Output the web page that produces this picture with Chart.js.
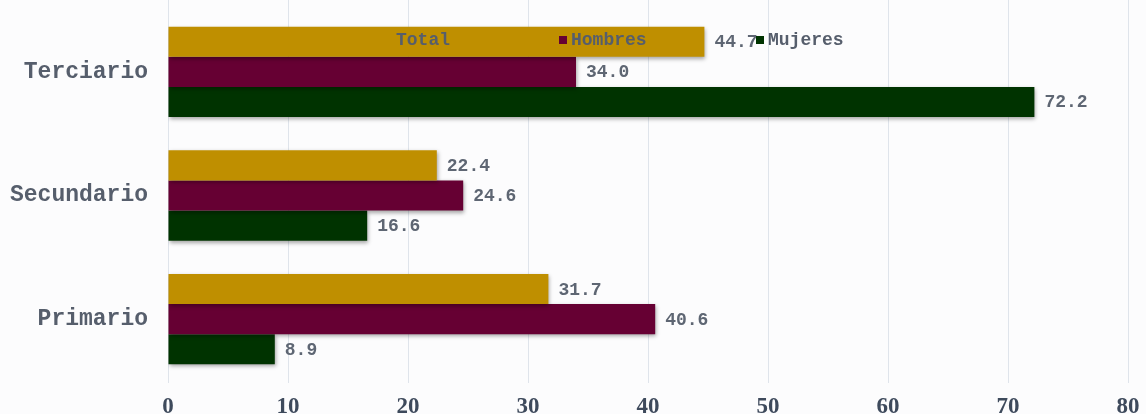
<!DOCTYPE html>
<html lang="es">
<head>
  <meta charset="UTF-8" />
  <title>Niveles por sector</title>
  <script src="https://cdn.jsdelivr.net/npm/chart.js"></script>
  <style>
    html, body { margin: 0; padding: 0; background: #fcfcfd; }
    #wrap { width: 1146px; height: 414px; }
  </style>
</head>
<body>
  <div id="wrap"><canvas id="chart" width="1146" height="414"></canvas></div>

  <script>
    // Sectors and values per group
    const categories = ["Terciario", "Secundario", "Primario"];
    const total   = [44.7, 22.4, 31.7];
    const hombres = [34.0, 24.6, 40.6];
    const mujeres = [72.2, 16.6, 8.9];
    const xTicks  = [0, 10, 20, 30, 40, 50, 60, 70, 80];

    const textGray = "#565e6c";
    const gridGray = "#dfe4eb";
    const monoFont = "'Liberation Mono', 'Courier New', monospace";

    // soft drop shadow under the bars
    const barShadow = {
      id: "barShadow",
      beforeDatasetsDraw(chart) {
        const ctx = chart.ctx;
        ctx.save();
        ctx.shadowColor = "rgba(0,0,0,0.35)";
        ctx.shadowBlur = 4;
        ctx.shadowOffsetX = 1;
        ctx.shadowOffsetY = 2;
      },
      afterDatasetsDraw(chart) {
        chart.ctx.restore();
      }
    };

    // grid lines continue up to the top edge
    const gridTop = {
      id: "gridTop",
      beforeDatasetsDraw(chart) {
        const ctx = chart.ctx, x = chart.scales.x, top = chart.chartArea.top;
        ctx.save();
        ctx.strokeStyle = gridGray;
        ctx.lineWidth = 1;
        xTicks.forEach(v => {
          const px = Math.round(x.getPixelForValue(v)) + 0.5;
          ctx.beginPath();
          ctx.moveTo(px, 0);
          ctx.lineTo(px, top);
          ctx.stroke();
        });
        ctx.restore();
      }
    };

    // numbers at the end of each bar
    const valueLabels = {
      id: "valueLabels",
      afterDatasetsDraw(chart) {
        const ctx = chart.ctx;
        ctx.save();
        ctx.font = "bold 18px " + monoFont;
        ctx.fillStyle = "#5e6673";
        ctx.textBaseline = "middle";
        ctx.textAlign = "left";
        chart.data.datasets.forEach((ds, i) => {
          chart.getDatasetMeta(i).data.forEach((bar, j) => {
            ctx.fillText(ds.data[j].toFixed(1), bar.x + 10, bar.y + 1);
          });
        });
        ctx.restore();
      }
    };

    // legend drawn over the top of the plot
    const topLegend = {
      id: "topLegend",
      afterDraw(chart) {
        const ctx = chart.ctx;
        const starts = [384, 559, 756];
        const y = 40;
        ctx.save();
        ctx.font = "bold 18px " + monoFont;
        ctx.textBaseline = "middle";
        ctx.textAlign = "left";
        chart.data.datasets.forEach((ds, i) => {
          const x0 = starts[i];
          ctx.fillStyle = ds.backgroundColor;
          ctx.fillRect(x0, y - 4, 8, 8);
          ctx.fillStyle = textGray;
          ctx.fillText(ds.label, x0 + 12, y);
        });
        ctx.restore();
      }
    };

    new Chart(document.getElementById("chart"), {
      type: "bar",
      data: {
        labels: categories,
        datasets: [
          { label: "Total",   data: total,   backgroundColor: "#bf8f00" },
          { label: "Hombres", data: hombres, backgroundColor: "#660033" },
          { label: "Mujeres", data: mujeres, backgroundColor: "#003300" }
        ]
      },
      options: {
        indexAxis: "y",
        responsive: false,
        animation: false,
        categoryPercentage: 0.73,
        barPercentage: 1.0,
        layout: { padding: { top: 10, right: 18, left: 0, bottom: 0 } },
        plugins: {
          legend: { display: false },
          tooltip: { enabled: false }
        },
        scales: {
          x: {
            min: 0,
            max: 80,
            ticks: {
              stepSize: 10,
              padding: 10,
              color: "#3e4a5c",
              font: { family: "'Liberation Serif', serif", size: 23, weight: "bold" }
            },
            grid: { color: gridGray, lineWidth: 1, drawTicks: true, tickLength: 2, tickColor: gridGray },
            border: { display: false },
            afterFit(scale) {
              scale.height = 33;
              scale.paddingLeft = 0;
              scale.paddingRight = 0;
            }
          },
          y: {
            ticks: {
              padding: 20,
              color: textGray,
              font: { family: monoFont, size: 23, weight: "bold" }
            },
            grid: { display: false, drawTicks: false },
            border: { display: false },
            afterFit(scale) {
              scale.width = 168;
              scale.paddingTop = 0;
              scale.paddingBottom = 0;
            }
          }
        }
      },
      plugins: [gridTop, barShadow, valueLabels, topLegend]
    });
  </script>
</body>
</html>
